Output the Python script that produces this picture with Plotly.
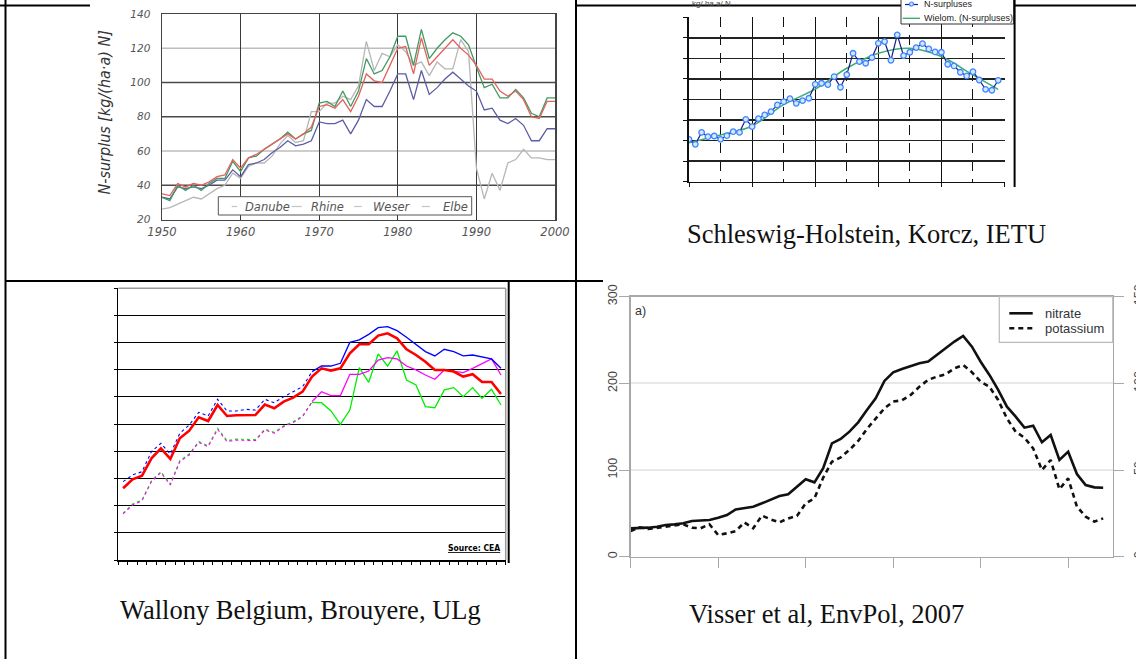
import plotly.graph_objects as go

W, H = 1136, 659
def px(x): return x / W
def py(y): return 1 - y / H

# ---------------- data ----------------
# Panel 1: N-surplus by river basin (kg/(ha*a) N)
years1 = list(range(1950, 2001))
danube = [33,32,39,38,39,38,40,43,43,49, 45,52,53,55,59,62,66,63,64,66,
          77,76,76,78,70,78,90,86,86,95, 105,105,90,107,93,97,102,106,102,98,
          95,84,85,78,76,79,75,66,66,73, 73]
rhine = [35,34,41,39,41,40,42,45,46,55, 50,56,58,61,64,67,70,67,70,74,
         86,87,85,90,83,92,105,101,100,110, 120,121,105,126,110,115,120,125,120,116,
         110,102,102,95,92,95,90,80,79,89, 89]
weser = [33,31,40,37,40,37,41,44,44,54, 48,56,57,61,64,67,71,67,70,72,
         88,89,86,95,86,95,114,105,107,115, 127,127,110,131,114,120,125,129,127,122,
         109,97,99,91,91,96,91,82,80,91, 91]
elbe = [26,27,29,31,33,32,35,38,40,47, 44,51,53,53,57,64,69,65,66,83,
        83,88,88,92,90,98,124,107,117,115, 122,118,110,112,104,112,108,108,125,118,
        50,32,47,37,53,55,61,56,56,55, 55]
legend1_names = ["Danube", "Rhine", "Weser", "Elbe"]
xticks1 = [1950, 1960, 1970, 1980, 1990, 2000]
yticks1 = [20, 40, 60, 80, 100, 120, 140]
grid1_dark = [40, 80, 100]
grid1_light = [60, 120]

# Panel 2: Schleswig-Holstein N-surpluses
years2 = list(range(1950, 2000))
n_surplus = [41.2,36.4,48.0,43.8,44.5,41.2,44.8,48.7,48.0,60.7,
             53.6,61.4,65.0,68.2,74.7,77.9,80.8,76.3,78.9,81.2,
             94.8,95.8,94.5,102.3,91.9,104.2,125.0,116.9,115.3,120.8,
             134.7,136.4,118.2,142.9,122.7,126.0,130.5,134.4,129.2,126.3,
             126.0,114.3,112.7,106.5,102.9,107.1,99.0,89.9,89.0,98.7]
trend_years = [1950, 1955, 1960, 1965, 1970, 1975, 1980, 1985, 1990, 1995, 1999]
trend_vals = [38.0, 45.5, 54.2, 75.0, 90.0, 110.4, 125.0, 129.9, 121.8, 103.9, 89.9]
legend2_names = ["N-surpluses", "Wielom. (N-surpluses)"]

# Panel 3: Wallony (41 yearly categories)
cats3 = list(range(41))
wal_red = [52.8,59.4,62.1,74.8,82.2,74.4,89.6,95.2,105.0,102.3,
           114.1,106.0,106.5,106.7,106.7,114.4,111.7,116.6,119.5,123.9,
           135.0,141.1,139.4,141.1,152.1,158.8,158.8,165.2,166.9,163.2,
           155.1,150.9,146.0,139.9,139.9,138.7,135.0,136.7,131.0,131.0,122.2]
wal_blue = [57.7,62.6,65.0,79.8,85.9,78.0,93.3,99.4,108.7,106.0,
            118.3,109.7,109.7,110.9,110.4,118.3,115.8,120.2,123.9,127.6,
            138.7,142.8,142.8,144.8,160.2,162.0,166.1,171.0,171.8,168.8,
            163.9,158.8,153.4,150.2,155.1,153.4,150.2,150.9,149.2,148.0,141.1]
wal_magenta = [33.9,40.5,43.7,57.7,64.3,55.2,72.4,77.3,86.6,83.4,
               96.2,87.1,88.3,88.3,87.9,95.7,93.3,98.2,101.1,105.5,
               116.6,123.9,121.0,121.0,136.7,136.7,139.1,147.2,149.0,148.0,
               142.8,139.9,136.2,133.0,139.9,138.7,137.9,141.1,144.8,148.0,136.2]
wal_green = [34.5,41.2,44.2,58.4,65.0,55.9,73.1,78.0,87.3,84.1,
             97.0,87.8,89.0,89.0,88.6,96.4,94.0,98.9,101.8,106.2,
             116.1,115.8,109.7,99.9,110.4,141.6,130.8,151.7,142.8,153.9,
             132.5,128.8,112.9,112.1,125.2,126.9,120.2,126.9,119.0,125.6,114.1]
split3 = 20  # dotted before, solid after

# Panel 4: Visser et al. nitrate (left axis) and potassium (right axis)
years4 = list(range(1950, 2005))
nitrate = [32.7,32.7,33.5,34.6,36.6,37.3,38.5,41.2,41.6,42.3,
           45.0,48.1,54.6,55.8,57.7,61.6,66.2,70.0,72.0,80.8,
           89.3,85.8,102.0,130.8,135.8,144.3,155.0,169.3,182.8,202.8,
           212.8,216.6,220.0,223.2,225.1,232.8,240.5,248.2,254.7,242.4,
           225.0,209.7,192.4,173.1,161.6,148.9,151.2,132.0,140.4,111.6,
           121.2,95.4,82.7,80.0,79.6]
potassium = [14.8,17.0,16.0,16.7,17.3,17.9,18.7,16.7,16.4,18.7,
             12.5,13.5,14.8,19.8,16.4,23.7,21.5,19.8,22.1,23.5,
             30.8,33.7,45.6,54.8,57.3,61.6,66.8,73.7,79.8,85.6,
             89.5,90.2,93.3,98.1,102.0,103.9,105.2,108.7,110.6,106.4,
             101.0,98.1,90.4,79.8,72.1,68.7,62.5,50.0,55.8,38.9,
             45.2,28.9,23.1,20.2,22.1]
left_ticks4 = [0, 100, 200, 300]
right_ticks4 = [0, 50, 100, 150]
xticks4 = [1950, 1960, 1970, 1980, 1990, 2000]

captions = {"p2": "Schleswig-Holstein, Korcz, IETU",
            "p3": "Wallony Belgium, Brouyere, ULg",
            "p4": "Visser et al, EnvPol, 2007"}

# ---------------- figure ----------------
fig = go.Figure()

col1 = {"Danube": "#5d5ca8", "Rhine": "#e2625e", "Weser": "#409a62", "Elbe": "#b6b6b6"}
for name, vals in [("Elbe", elbe), ("Danube", danube), ("Weser", weser), ("Rhine", rhine)]:
    fig.add_trace(go.Scatter(x=years1, y=vals, mode="lines", name=name,
                             line=dict(color=col1[name], width=1.3),
                             xaxis="x", yaxis="y", showlegend=False))

fig.add_trace(go.Scatter(x=trend_years, y=trend_vals, mode="lines", line_shape="spline",
                         line=dict(color="#3cae72", width=1.5), xaxis="x2", yaxis="y2", showlegend=False))
fig.add_trace(go.Scatter(x=years2, y=n_surplus, mode="lines+markers",
                         line=dict(color="#1b1b85", width=1.2),
                         marker=dict(symbol="circle", size=5.5, color="#d6e6ff",
                                     line=dict(color="#3d86ff", width=1.3)),
                         xaxis="x2", yaxis="y2", showlegend=False))

def seg(vals, a, b):
    return cats3[a:b], vals[a:b]

for vals, color in [(wal_green, "#00ee00"), (wal_magenta, "#ff00ff"), (wal_blue, "#0000ff")]:
    xs, ys = seg(vals, 0, split3 + 1)
    fig.add_trace(go.Scatter(x=xs, y=ys, mode="lines", line=dict(color=color, width=1.1, dash="dot"),
                             xaxis="x3", yaxis="y3", showlegend=False))
    xs, ys = seg(vals, split3, len(cats3))
    fig.add_trace(go.Scatter(x=xs, y=ys, mode="lines", line=dict(color=color, width=1.3),
                             xaxis="x3", yaxis="y3", showlegend=False))
fig.add_trace(go.Scatter(x=cats3, y=wal_red, mode="lines", line=dict(color="#ff0000", width=2.6),
                         xaxis="x3", yaxis="y3", showlegend=False))

fig.add_trace(go.Scatter(x=years4, y=potassium, mode="lines",
                         line=dict(color="#111111", width=2.6, dash="5px,4px"),
                         xaxis="x4", yaxis="y5", showlegend=False))
fig.add_trace(go.Scatter(x=years4, y=nitrate, mode="lines",
                         line=dict(color="#111111", width=2.6),
                         xaxis="x4", yaxis="y4", showlegend=False))

ital = dict(family="DejaVu Sans", style="italic", color="#555555")
gray4 = "#a8a8a8"

layout = dict(
    width=W, height=H, autosize=False,
    margin=dict(l=0, r=0, t=0, b=0, pad=0, autoexpand=False),
    paper_bgcolor="white", plot_bgcolor="rgba(0,0,0,0)", showlegend=False,
    font=dict(family="Liberation Sans", color="#333"),
    # panel 1
    xaxis=dict(domain=[px(162), px(555)], range=[1950, 2000], tickvals=xticks1, automargin=False,
               showgrid=True, gridcolor="#3a3a3a", gridwidth=1.4, zeroline=False,
               showline=True, mirror=True, linecolor="#444", linewidth=1.5,
               ticks="", tickfont=dict(size=11.5, **ital), ticklabelstandoff=1, anchor="y"),
    yaxis=dict(domain=[py(219.5), py(14)], range=[20, 140], tickvals=yticks1, automargin=False,
               showgrid=False, zeroline=False,
               showline=True, mirror=True, linecolor="#444", linewidth=1.5,
               ticks="", tickfont=dict(size=10.5, **ital), ticklabelstandoff=8, anchor="x"),
    # panel 2
    xaxis2=dict(domain=[px(689), px(1004.5)], range=[1950, 2000], dtick=10, tick0=1950, automargin=False,
                showgrid=True, gridcolor="#111", gridwidth=1, zeroline=False,
                minor=dict(dtick=5, tick0=1950, showgrid=True, gridcolor="#111", gridwidth=1,
                           griddash="10px,8px"),
                showline=True, linecolor="#111", linewidth=1.5,
                ticks="outside", ticklen=4, tickcolor="#111", showticklabels=False, anchor="y2"),
    yaxis2=dict(domain=[py(181.7), py(17.3)], range=[0, 160], dtick=20, automargin=False,
                showgrid=True, gridcolor="#222", gridwidth=1.6, zeroline=False,
                showline=True, linecolor="#111", linewidth=2,
                ticks="outside", ticklen=4, tickcolor="#111", showticklabels=False, anchor="x2"),
    # panel 3
    xaxis3=dict(domain=[px(118.4), px(505.7)], range=[-0.5, 40.5], automargin=False,
                tickvals=[k - 0.5 for k in range(42)], showgrid=False, zeroline=False,
                showline=True, linecolor="#000", linewidth=1.5,
                ticks="outside", ticklen=3, tickcolor="#000", tickwidth=1, showticklabels=False, anchor="y3"),
    yaxis3=dict(domain=[py(560), py(288.3)], range=[0, 200], dtick=20, automargin=False,
                showgrid=True, gridcolor="#000", gridwidth=1, zeroline=False,
                showline=True, linecolor="#000", linewidth=1.5,
                ticks="outside", ticklen=3, tickcolor="#000", showticklabels=False, anchor="x3"),
    # panel 4
    xaxis4=dict(domain=[px(630.7), px(1112.7)], range=[1950, 2005.09], tickvals=xticks4, automargin=False,
                showgrid=False, zeroline=False, showline=True, mirror=True,
                linecolor=gray4, linewidth=1.3, ticks="outside", ticklen=10, tickcolor=gray4,
                showticklabels=False, anchor="y4"),
    yaxis4=dict(domain=[py(556.7), py(296.7)], range=[0, 300], tickvals=left_ticks4, automargin=False,
                showgrid=True, gridcolor="#e8e8e8", gridwidth=2, zeroline=False,
                showline=True, mirror=True, linecolor=gray4, linewidth=1.3,
                ticks="outside", ticklen=10, tickcolor=gray4, tickangle=-90,
                tickfont=dict(family="Liberation Sans", size=12.5, color="#444"),
                ticklabelstandoff=-3, anchor="x4"),
    yaxis5=dict(domain=[py(556.7), py(296.7)], range=[0, 150], tickvals=right_ticks4, automargin=False,
                overlaying="y4", side="right", anchor="x4", showgrid=False, zeroline=False,
                showline=False, ticks="outside", ticklen=10, tickcolor=gray4, tickangle=-90,
                tickfont=dict(family="Liberation Sans", size=12.5, color="#444"),
                ticklabelstandoff=4),
)
fig.update_layout(**layout)

shapes = []
# panel 1 horizontal gridlines (mixed shades, as in the scanned original)
for v in grid1_light:
    shapes.append(dict(type="line", xref="x domain", yref="y", x0=0, x1=1, y0=v, y1=v,
                       line=dict(color="#bdbdbd", width=1.3), layer="below"))
for v in grid1_dark:
    shapes.append(dict(type="line", xref="x domain", yref="y", x0=0, x1=1, y0=v, y1=v,
                       line=dict(color="#4a4a4a", width=1.3), layer="below"))

def line(x0, y0, x1, y1, color="#000", width=2, dash=None):
    d = dict(type="line", xref="paper", yref="paper", x0=px(x0), y0=py(y0), x1=px(x1), y1=py(y1),
             line=dict(color=color, width=width), layer="above")
    if dash:
        d["line"]["dash"] = dash
    shapes.append(d)
def rect(x0, y0, x1, y1, color="#444", width=1, fill="white"):
    shapes.append(dict(type="rect", xref="paper", yref="paper", x0=px(x0), y0=py(y0), x1=px(x1), y1=py(y1),
                       line=dict(color=color, width=width), fillcolor=fill, layer="above"))

# table borders
line(5.5, 0, 5.5, 659)
line(576, 0, 576, 659)
line(0, 5.5, 90, 5.5)
line(576, 5.5, 1136, 5.5)
line(5.5, 281, 603, 281)
# image frames
line(1014.6, 0, 1014.6, 187)
line(508.7, 281, 508.7, 563)

# panel 3 plot-area border (gray top/right)
line(118.4, 288.3, 505.7, 288.3, color="#9a9a9a", width=1.5)
line(505.7, 288.3, 505.7, 560, color="#9a9a9a", width=1.5)

# panel 1 legend
rect(218.3, 196.7, 471.7, 215, color="#555", width=1)
for (a, b) in [(231.7, 237.2), (291.7, 301.7), (354, 361.7), (421.7, 430)]:
    line(a, 206.5, b, 206.5, color="#c4c4c4", width=1.2)

# panel 2 legend
rect(901, -3, 1013.5, 24, color="#333", width=1)
line(905, 4.5, 918, 4.5, color="#1b1b85", width=1.2)
shapes.append(dict(type="circle", xref="paper", yref="paper", x0=px(909.5), y0=py(2), x1=px(913.5), y1=py(6),
                   line=dict(color="#3d86ff", width=1.2), fillcolor="#cfe0ff", layer="above"))
line(902.7, 18.3, 920, 18.3, color="#3cae72", width=1.4)

# panel 4 legend
rect(999.3, 296.7, 1112.7, 342.3, color="#bbbbbb", width=1.2)
line(1009.3, 313.3, 1032.7, 313.3, color="#111", width=2.6)
line(1009.3, 328.3, 1032.7, 328.3, color="#111", width=2.6, dash="5px,4px")

fig.update_layout(shapes=shapes)

ann = []
def text(x, y, s, size, family="Liberation Sans", color="#333", xanchor="left", yanchor="middle",
         angle=0, style="normal", weight="normal"):
    ann.append(dict(x=px(x), y=py(y), xref="paper", yref="paper", text=s, showarrow=False,
                    xanchor=xanchor, yanchor=yanchor, textangle=angle,
                    font=dict(family=family, size=size, color=color, style=style, weight=weight)))

narrow = "Liberation Sans Narrow, Arial Narrow, DejaVu Sans Condensed, sans-serif"
text(104, 112.5, "N-surplus [kg/(ha·a) N]", 16, family=narrow, color="#333",
     xanchor="center", angle=-90, style="italic")
for name, xl in zip(legend1_names, [242.7, 309.3, 370.7, 440.7]):
    text(xl, 206.5, name, 11.5, family="DejaVu Sans", color="#555", style="italic")

text(690, 4, "kg/ ha a/ N", 8, color="#444")
text(921.7, 4.5, legend2_names[0], 9, color="#222")
text(921.7, 18.3, legend2_names[1], 9, color="#222")

text(501.5, 548, "<u>Source: CEA</u>", 8.5, family=narrow, color="#000", xanchor="right", weight="bold")

text(633, 311, "a)", 12.5, color="#333")
text(1042.7, 313.3, "nitrate", 13, color="#333")
text(1042.7, 328.3, "potassium", 13, color="#333")

serif = "Liberation Serif, Times New Roman, serif"
text(685, 234, captions["p2"], 26.5, family=serif, color="#111")
text(117.6, 610, captions["p3"], 26.5, family=serif, color="#111")
text(687.4, 614, captions["p4"], 26.5, family=serif, color="#111")

fig.update_layout(annotations=ann)

fig.write_html("out.html", config={"displayModeBar": False, "staticPlot": True},
               post_script="document.body.style.margin='0px';document.body.style.overflow='hidden';")
